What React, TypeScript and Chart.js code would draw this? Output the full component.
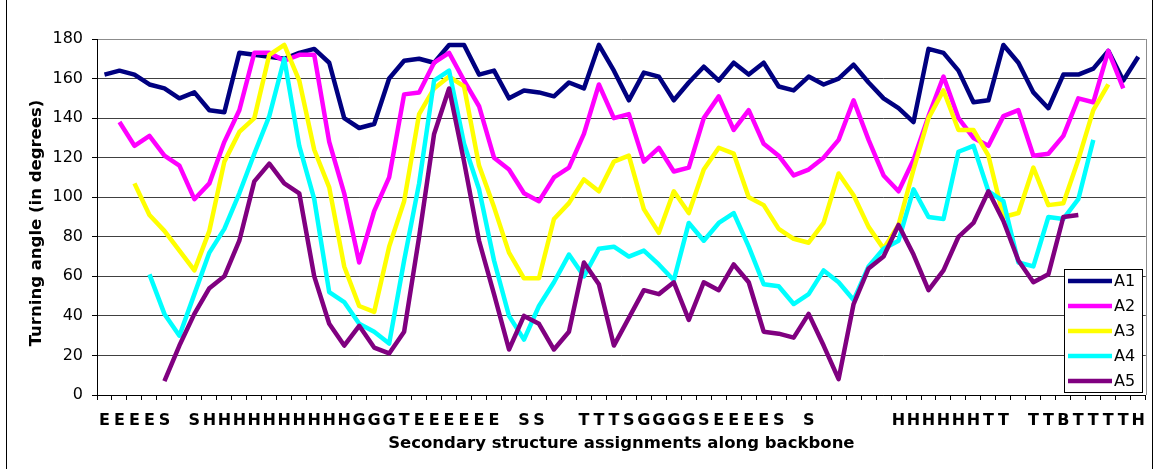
import React, { useEffect, useRef } from "react";
import { Chart, registerables } from "chart.js";

Chart.register(...registerables);

const categories = [
  "E", "E", "E", "E", "S", "", "S", "H", "H", "H",
  "H", "H", "H", "H", "H", "H", "H", "G", "G", "G",
  "T", "E", "E", "E", "E", "E", "E", "", "S", "S",
  "", "", "T", "T", "T", "S", "G", "G", "G", "G",
  "S", "E", "E", "E", "E", "S", "", "S", "", "",
  "", "", "", "H", "H", "H", "H", "H", "H", "T",
  "T", "", "T", "T", "B", "T", "T", "T", "T", "H",
];

const seriesNames = ["A1", "A2", "A3", "A4", "A5"];
const seriesColors = ["#000080", "#FF00FF", "#FFFF00", "#00FFFF", "#800080"];

const a1 = [
  162, 164, 162, 157, 155, 150, 153, 144, 143, 173,
  172, 171, 170, 173, 175, 168, 140, 135, 137, 160,
  169, 170, 168, 177, 177, 162, 164, 150, 154, 153,
  151, 158, 155, 177, 164, 149, 163, 161, 149, 158,
  166, 159, 168, 162, 168, 156, 154, 161, 157, 160,
  167, 158, 150, 145, 138, 175, 173, 164, 148, 149,
  177, 168, 153, 145, 162, 162, 165, 174, 159, 171,
];
const a2 = [
  null, 138, 126, 131, 121, 116, 99, 107, 128, 144,
  173, 173, 169, 172, 172, 128, 102, 67, 93, 110,
  152, 153, 168, 173, 159, 146, 120, 114, 102, 98,
  110, 115, 132, 157, 140, 142, 118, 125, 113, 115,
  140, 151, 134, 144, 127, 121, 111, 114, 120, 129,
  149, 129, 111, 103, 119, 141, 161, 140, 130, 126,
  141, 144, 121, 122, 131, 150, 148, 174, 155, null,
];
const a3 = [
  null, null, 107, 91, 83, 73, 63, 83, 118, 133,
  140, 172, 177, 159, 124, 105, 65, 45, 42, 75,
  98, 142, 155, 161, 156, 116, 95, 72, 59, 59,
  89, 97, 109, 103, 118, 121, 94, 82, 103, 92,
  114, 125, 122, 100, 96, 84, 79, 77, 87, 112,
  101, 85, 74, 86, 114, 140, 154, 134, 134, 121,
  90, 92, 115, 96, 97, 119, 144, 157, null, null,
];
const a4 = [
  null, null, null, 61, 41, 30, 51, 72, 84, 102,
  122, 141, 170, 126, 99, 52, 47, 36, 32, 26,
  68, 107, 159, 164, 127, 104, 68, 40, 28, 45,
  57, 71, 60, 74, 75, 70, 73, 66, 58, 87,
  78, 87, 92, 75, 56, 55, 46, 51, 63, 57,
  48, 65, 74, 78, 104, 90, 89, 123, 126, 103,
  98, 67, 65, 90, 89, 99, 129, null, null, null,
];
const a5 = [
  null, null, null, null, 7, 25, 41, 54, 60, 78,
  108, 117, 107, 102, 60, 36, 25, 35, 24, 21,
  32, 80, 132, 155, 118, 78, 51, 23, 40, 36,
  23, 32, 67, 56, 25, 39, 53, 51, 57, 38,
  57, 53, 66, 57, 32, 31, 29, 41, 25, 8,
  46, 64, 70, 86, 71, 53, 63, 80, 87, 103,
  88, 68, 57, 61, 90, 91, null, null, null, null,
];

const seriesValues = [a1, a2, a3, a4, a5];
const yTitle = "Turning angle (in degrees)";
const xTitle = "Secondary structure assignments along backbone";

const FONT = "'DejaVu Sans', Verdana, sans-serif";

const decorPlugin = {
  id: "decor",
  afterDraw(chart: any) {
    const { ctx, chartArea: ca } = chart;
    ctx.save();
    // plot area right border
    ctx.strokeStyle = "#8c8c8c";
    ctx.lineWidth = 1;
    ctx.beginPath();
    ctx.moveTo(Math.round(ca.right) + 0.5, Math.round(ca.top));
    ctx.lineTo(Math.round(ca.right) + 0.5, Math.round(ca.bottom));
    ctx.stroke();

    // outer chart border (left/right)
    ctx.fillStyle = "#000";
    ctx.fillRect(6, 0, 1, chart.height);
    ctx.fillRect(1152, 0, 1, chart.height);

    // y title
    ctx.save();
    ctx.translate(37, (ca.top + ca.bottom) / 2 + 6);
    ctx.rotate(-Math.PI / 2);
    ctx.font = `bold 16.5px ${FONT}`;
    ctx.fillStyle = "#000";
    ctx.textAlign = "center";
    ctx.textBaseline = "middle";
    ctx.fillText(yTitle, 0, 0);
    ctx.restore();

    // x title
    ctx.font = `bold 16.5px ${FONT}`;
    ctx.fillStyle = "#000";
    ctx.textAlign = "center";
    ctx.textBaseline = "middle";
    ctx.fillText(xTitle, (ca.left + ca.right) / 2, 444);

    // legend
    const lx = 1064, ly = 269, lw = 78, lh = 123;
    ctx.fillStyle = "#fff";
    ctx.fillRect(lx, ly, lw, lh);
    ctx.strokeStyle = "#000";
    ctx.lineWidth = 1;
    ctx.strokeRect(lx + 0.5, ly + 0.5, lw, lh);
    ctx.font = `16px ${FONT}`;
    ctx.textAlign = "left";
    ctx.textBaseline = "middle";
    chart.data.datasets.forEach((ds: any, k: number) => {
      const y = ly + 12 + k * 25;
      ctx.strokeStyle = ds.borderColor;
      ctx.lineWidth = 4.5;
      ctx.beginPath();
      ctx.moveTo(lx + 4, y);
      ctx.lineTo(lx + 48, y);
      ctx.stroke();
      ctx.fillStyle = "#000";
      ctx.fillText(ds.label, lx + 50, y + 1);
    });
    ctx.restore();
  },
};

export default function App() {
  const ref = useRef<HTMLCanvasElement | null>(null);

  useEffect(() => {
    if (!ref.current) return;
    const chart = new Chart(ref.current, {
      type: "line",
      data: {
        labels: categories,
        datasets: seriesNames.map((name, i) => ({
          label: name,
          data: seriesValues[i],
          borderColor: seriesColors[i],
          backgroundColor: seriesColors[i],
          borderWidth: 4.5,
          pointRadius: 0,
          pointHoverRadius: 0,
          tension: 0,
          fill: false,
          spanGaps: false,
          borderJoinStyle: "round",
          borderCapStyle: "butt",
          order: seriesNames.length - 1 - i,
        })),
      },
      options: {
        responsive: false,
        animation: false,
        devicePixelRatio: 1,
        layout: { padding: { left: 0, top: 39, right: 7, bottom: 0 } },
        plugins: {
          legend: { display: false },
          tooltip: { enabled: false },
          title: { display: false },
        },
        scales: {
          x: {
            type: "category",
            offset: true,
            grid: {
              display: true,
              drawOnChartArea: false,
              drawTicks: true,
              tickLength: 5,
              tickColor: "#000",
              offset: true,
            },
            border: { display: true, color: "#000", width: 1 },
            ticks: {
              autoSkip: false,
              maxRotation: 0,
              minRotation: 0,
              padding: 11,
              color: "#000",
              font: { family: FONT, size: 16, weight: "bold" },
            },
            afterFit: (s: any) => {
              s.height = 74;
            },
          },
          y: {
            min: 0,
            max: 180,
            ticks: {
              stepSize: 20,
              padding: 9,
              color: "#000",
              font: { family: FONT, size: 16 },
            },
            grid: {
              color: (c: any) => (c.tick && c.tick.value === 180 ? "#8c8c8c" : "#404040"),
              tickColor: "#000",
              tickLength: 5,
              lineWidth: 1,
            },
            border: { display: true, color: "#000", width: 1 },
            afterFit: (s: any) => {
              s.width = 97;
            },
          },
        },
      },
      plugins: [decorPlugin],
    });
    return () => chart.destroy();
  }, []);

  return (
    <div style={{ position: "absolute", left: 0, top: 0, width: 1156, height: 469, background: "#fff" }}>
      <canvas ref={ref} width={1156} height={469} style={{ display: "block" }} />
    </div>
  );
}
